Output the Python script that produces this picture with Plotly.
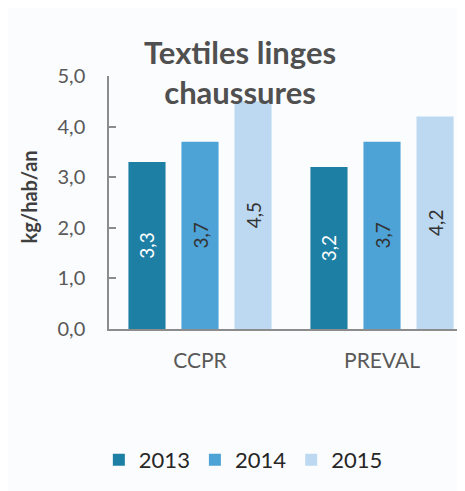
import plotly.graph_objects as go

categories = ["CCPR", "PREVAL"]
years = ["2013", "2014", "2015"]
values_2013 = [3.3, 3.2]
values_2014 = [3.7, 3.7]
values_2015 = [4.5, 4.2]
y_ticks = [0, 1, 2, 3, 4, 5]

series = [values_2013, values_2014, values_2015]
colors = ["#1E7FA5", "#4DA2D6", "#BDD9F2"]
text_colors = ["white", "#333333", "#333333"]

FONT = "Lato"
W, H = 457, 483
L, T, PW, PH = 101, 68, 356, 253

fig = go.Figure()
for name, vals, c, tc in zip(years, series, colors, text_colors):
    fig.add_trace(go.Bar(
        x=categories, y=vals, name=name,
        marker=dict(color=c, line=dict(width=0)),
        text=[f"{v:.1f}".replace(".", ",") for v in vals],
        textposition="inside", textangle=-90, insidetextanchor="middle",
        textfont=dict(family=FONT, size=19, color=tc),
        cliponaxis=False,
    ))

fig.update_layout(
    width=W, height=H,
    margin=dict(l=L, r=W - L - PW, t=T, b=H - T - PH),
    paper_bgcolor="#FBFCFD", plot_bgcolor="rgba(0,0,0,0)",
    barmode="group", bargap=0.126, bargroupgap=0.30,
    separators=", ",
    font=dict(family=FONT, color="#595959"),
    showlegend=True,
    legend=dict(orientation="h", x=0.515, xanchor="center", xref="container",
                y=(H - 452) / H, yanchor="middle", yref="container",
                font=dict(family=FONT, size=22, color="#262626"),
                traceorder="normal", bgcolor="rgba(0,0,0,0)"),
    xaxis=dict(range=[-0.5, 1.456], showline=True, linecolor="#8C8C8C", linewidth=1.5,
               ticks="", tickfont=dict(family=FONT, size=21, color="#595959"),
               ticklabelstandoff=12, fixedrange=True),
    yaxis=dict(range=[0, 5], tickvals=y_ticks, ticktext=[f"{v:.1f}".replace(".", ",") for v in y_ticks],
               showline=True, linecolor="#8C8C8C", linewidth=1.5,
               ticks="inside", ticklen=7, tickcolor="#8C8C8C", tickwidth=1.5,
               showgrid=False, zeroline=False,
               tickfont=dict(family=FONT, size=20, color="#595959"),
               ticklabelstandoff=18, fixedrange=True),
    annotations=[
        dict(text="<b>Textiles linges</b><br><b>chaussures</b>", xref="paper", yref="paper",
             x=(232 - L) / PW, y=(T + PH - 64) / PH, xanchor="center", yanchor="middle",
             showarrow=False, font=dict(family=FONT, size=31, color="#505050")),
        dict(text="<b>kg/hab/an</b>", xref="paper", yref="paper", textangle=-90,
             x=(21 - L) / PW, y=0.52, xanchor="center", yanchor="middle",
             showarrow=False, font=dict(family=FONT, size=20, color="#404040")),
    ],
)

fig.write_html("out.html")
